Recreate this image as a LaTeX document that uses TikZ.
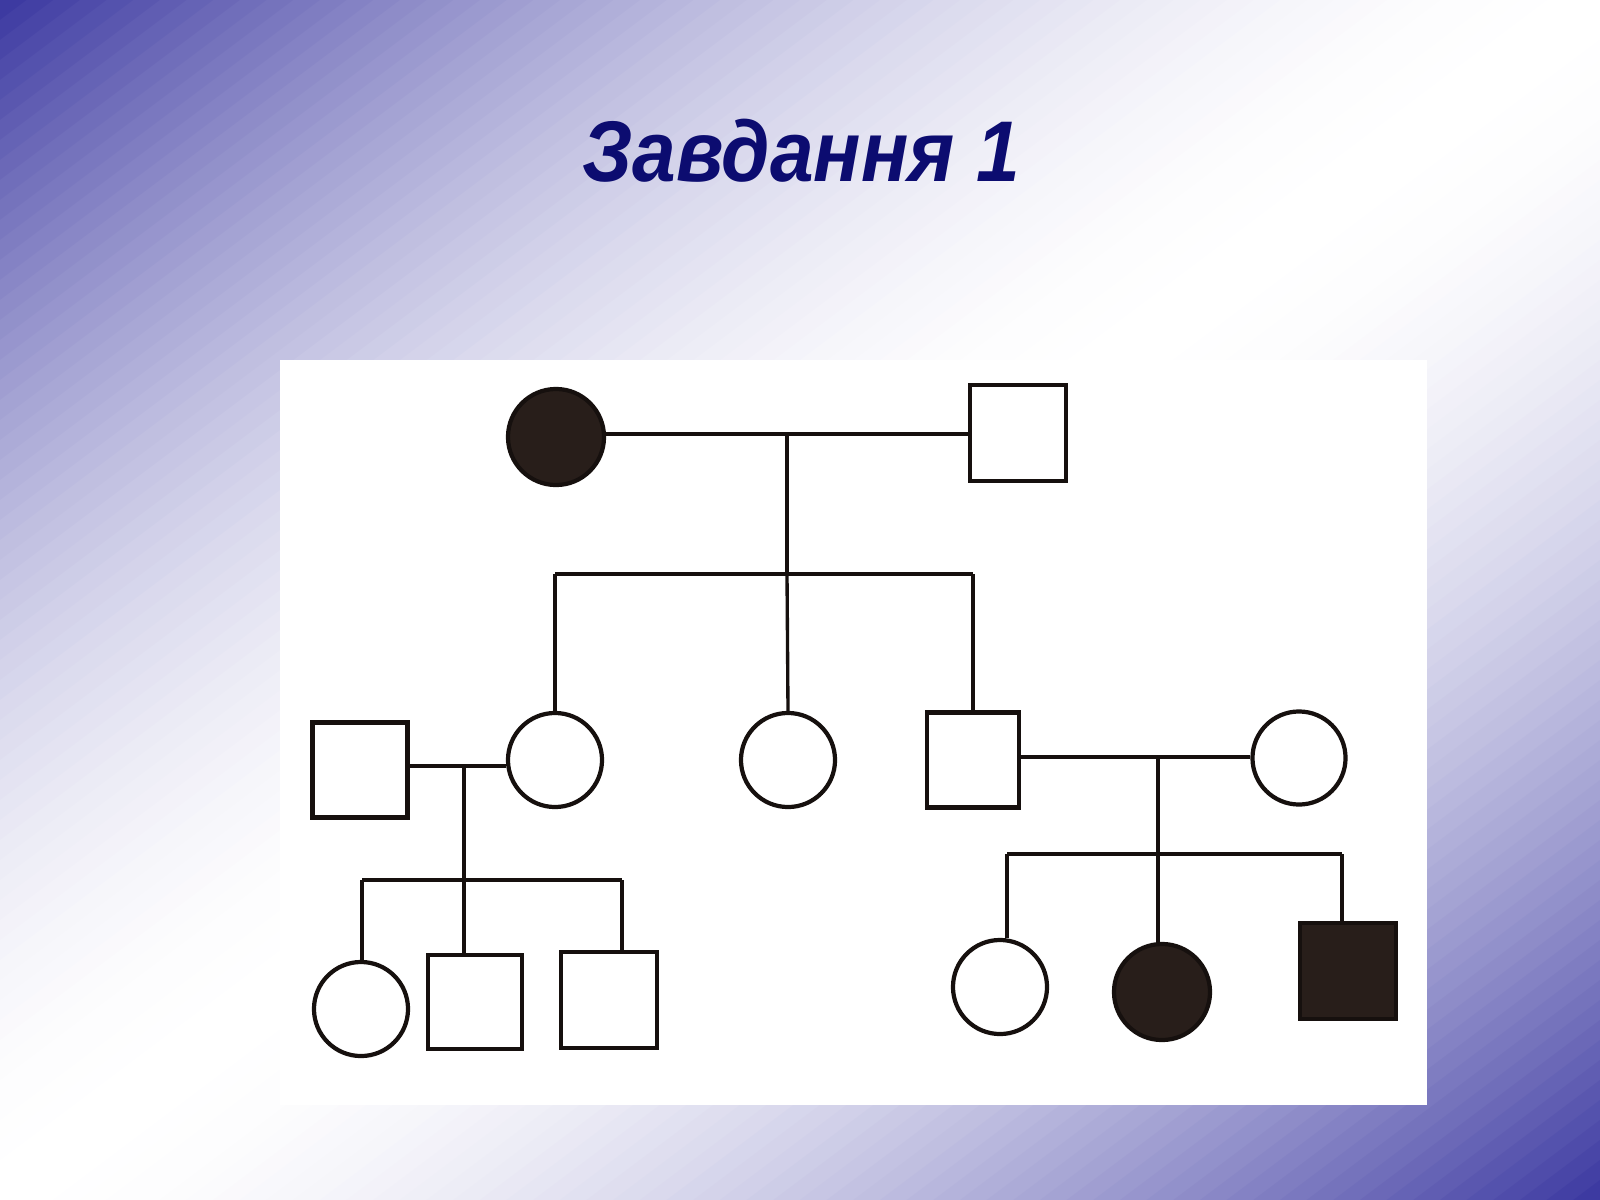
\documentclass[tikz,border=0pt]{standalone}
\usepackage{fontspec}
\setmainfont{Liberation Sans}
\newfontfamily\titlefont[FakeStretch=0.91]{Liberation Sans}
\definecolor{bgblue}{RGB}{58,55,160}
\definecolor{titleblue}{RGB}{12,12,112}
\definecolor{inkc}{RGB}{22,16,14}
\definecolor{affc}{RGB}{40,30,26}
\tikzset{
  conn/.style={draw=inkc, line width=0.95pt},
  fem/.style={circle, draw=inkc, line width=1.2pt, fill=white, inner sep=0pt, minimum size=0.95cm},
  mal/.style={rectangle, draw=inkc, line width=1.2pt, fill=white, inner sep=0pt, minimum width=0.95cm, minimum height=0.95cm},
  aff/.style={fill=affc},
}
\begin{document}
\begin{tikzpicture}[x=0.01cm, y=-0.01cm]
\useasboundingbox (0,0) rectangle (1600,1200);
% background gradient
\begin{scope}
\clip (0,0) rectangle (1600,1200);
\foreach \i in {0,...,119} {
  \pgfmathsetmacro\ta{\i/60}
  \pgfmathsetmacro\tb{(\i+1.3)/60}
  \pgfmathsetmacro\tm{(\i+0.5)/60}
  \pgfmathsetmacro\f{100*abs(1-\tm)^1.85}
  \fill[bgblue!\f!white] (\ta*1600+1600,-1200) -- (\ta*1600-3200,2400) -- (\tb*1600-3200,2400) -- (\tb*1600+1600,-1200) -- cycle;
}
\end{scope}
% title
\node[font=\titlefont\fontsize{24.5}{29}\selectfont\bfseries\itshape, text=titleblue] (title) at (801,151) {Завдання 1};
% white panel
\fill[white] (280,360) rectangle (1427,1105);
% generation I
\node[fem, aff, minimum size=0.96cm] (I1) at (556,437) {};
\node[mal, minimum width=0.96cm, minimum height=0.96cm] (I2) at (1018,433) {};
% generation II
\node[mal] (II1) at (360,770) {};
\node[fem, minimum size=0.94cm] (II2) at (555,760) {};
\node[fem, minimum size=0.94cm] (II3) at (788,760) {};
\node[mal, minimum width=0.92cm] (II4) at (973,760) {};
\node[fem, minimum size=0.93cm] (II5) at (1299,758) {};
% generation III
\node[fem, minimum size=0.94cm] (III1) at (361,1009) {};
\node[mal, minimum width=0.94cm, minimum height=0.94cm] (III2) at (475,1002) {};
\node[mal, minimum width=0.96cm, minimum height=0.96cm] (III3) at (609,1000) {};
\node[fem, minimum size=0.94cm] (III4) at (1000,987) {};
\node[fem, aff, minimum size=0.96cm] (III5) at (1162,992) {};
\node[mal, aff, minimum width=0.96cm, minimum height=0.96cm] (III6) at (1348,971) {};
% coordinates
\coordinate (m1) at (787,434);
\coordinate (sib1) at (787,574);
\coordinate (m2) at (464,766);
\coordinate (sib2) at (464,880);
\coordinate (s2a) at (362,880);
\coordinate (s2b) at (622,880);
\coordinate (m3) at (1158,757);
\coordinate (sib3) at (1158,854);
\coordinate (s3a) at (1007,854);
\coordinate (s3b) at (1342,854);
% connectors generation I -> II
\draw[conn] (I1.east |- m1) -- (I2.west |- m1);
\draw[conn] (m1) -- (sib1);
\draw[conn] (II2.north |- sib1) -- (II4.north |- sib1);
\draw[conn] (II2.north |- sib1) -- (II2.north);
\draw[conn] (sib1) -- (II3.north);
\draw[conn] (II4.north |- sib1) -- (II4.north);
% left family
\draw[conn] (II1.east |- m2) -- (II2.west |- m2);
\draw[conn] (m2) -- (sib2);
\draw[conn] (s2a) -- (s2b);
\draw[conn] (s2a) -- (s2a |- III1.north);
\draw[conn] (sib2) -- (sib2 |- III2.north);
\draw[conn] (s2b) -- (s2b |- III3.north);
% right family
\draw[conn] (II4.east |- m3) -- (II5.west |- m3);
\draw[conn] (m3) -- (sib3);
\draw[conn] (s3a) -- (s3b);
\draw[conn] (s3a) -- (s3a |- III4.north);
\draw[conn] (sib3) -- (sib3 |- III5.north);
\draw[conn] (s3b) -- (s3b |- III6.north);
\end{tikzpicture}
\end{document}
